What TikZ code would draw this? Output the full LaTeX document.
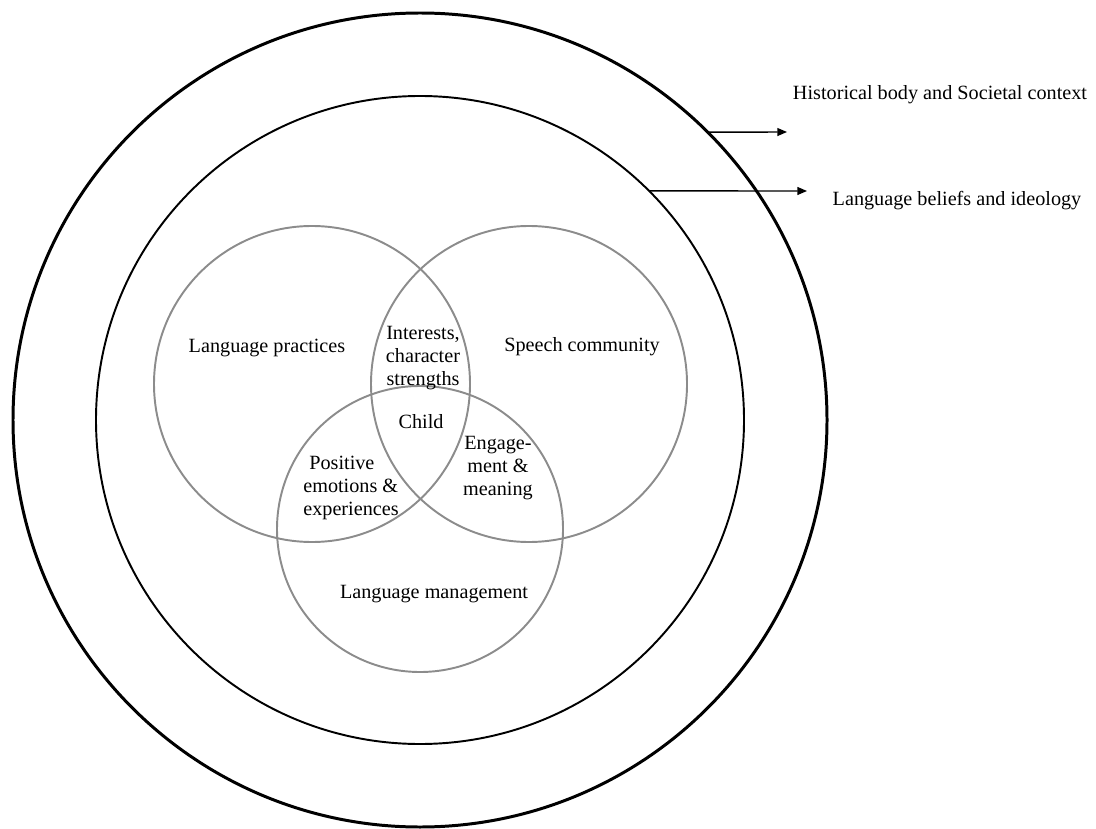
\documentclass[tikz,border=0pt]{standalone}
\usepackage{fontspec}
\setmainfont{Liberation Serif}
\usetikzlibrary{arrows.meta,positioning}

\begin{document}
\begin{tikzpicture}[
    ring/.style={draw, circle, inner sep=0pt, outer sep=0pt},
    venn/.style={draw=black!45, circle, line width=1.1pt, inner sep=0pt, outer sep=0pt, minimum size=6.32cm},
    lbl/.style={align=center, font=\fontsize{11.5}{13}\selectfont},
    arr/.style={-{Triangle[length=5.5pt,width=4.5pt]}, line width=0.8pt}
]
\useasboundingbox (0,0) rectangle (21.92,16.56);

% context rings
\node[ring, line width=1.7pt, minimum size=16.28cm] (outer) at (8.40,8.16) {};
\node[ring, line width=1.1pt, minimum size=12.96cm] (inner) at (8.40,8.16) {};

% three overlapping circles
\node[venn] (practices) at (6.24,8.88) {};
\node[venn] (community) at (10.58,8.88) {};
\node[venn, minimum size=5.72cm] (management) at (8.40,5.98) {};

\node[lbl] (lp) at (5.34,9.60) {Language practices};
\node[lbl] (sc) at (11.64,9.62) {Speech community};
\node[lbl] (lm) at (8.68,4.68) {Language management};
\node[lbl] (interests) at (8.46,9.40) {Interests,\\character\\strengths};
\node[lbl] (child) at (8.42,8.12) {Child};
\node[lbl] (engage) at (9.96,7.20) {Engage-\\ment \&\\meaning};
\node[lbl, align=left] (positive) at (7.02,6.80) {\hspace{0.12cm}Positive\\emotions \&\\experiences};

% labels of the rings
\node[lbl] (history) at (18.80,14.66) {Historical body and Societal context};
\node[lbl] (beliefs) at (19.14,12.54) {Language beliefs and ideology};
\coordinate (historytip) at (15.74,13.92);
\coordinate (beliefstip) at (16.14,12.74);

\draw[arr] (outer.45) -- (historytip);
\draw[arr] (inner.45) -- (beliefstip);
\end{tikzpicture}
\end{document}
